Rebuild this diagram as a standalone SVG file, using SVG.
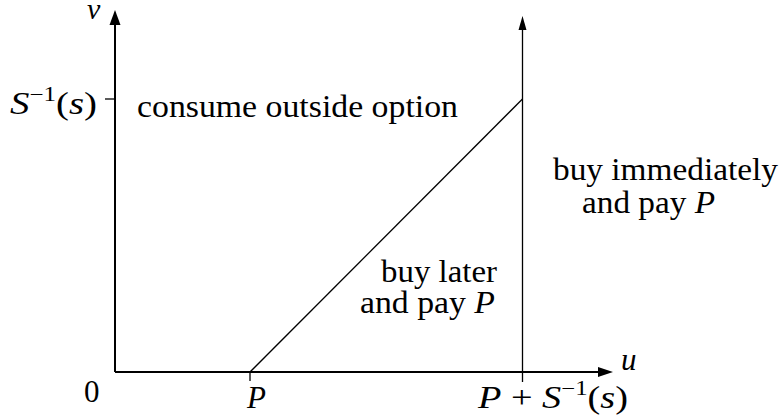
<svg xmlns="http://www.w3.org/2000/svg" width="781" height="419" viewBox="0 0 781 419">
<style>
.it{font-style:italic}
.sup{font-size:20px}
.ax{stroke:#000;stroke-width:2;fill:none}
.ln{stroke:#000;stroke-width:1.3;fill:none}
</style>
<rect width="781" height="419" fill="#fff"/>
<g id="connectors">
<line class="ax" x1="115" y1="372" x2="115" y2="22"/>
<polygon points="115,10 109.5,25 120.5,25" fill="#000"/>
<line class="ax" x1="115" y1="372" x2="600" y2="372"/>
<polygon points="613,372 598,367 598,377" fill="#000"/>
<line class="ln" x1="522.5" y1="382" x2="522.5" y2="26"/>
<polygon points="522.5,16 518.5,30 526.5,30" fill="#000"/>
<line class="ln" x1="250" y1="372" x2="522.5" y2="99"/>
<line class="ln" x1="105" y1="99" x2="115" y2="99"/>
<line class="ln" x1="250" y1="372" x2="250" y2="381"/>
</g>
<g id="labels">
<text font-family="Liberation Serif" font-size="30" font-style="italic" x="87" y="19">v</text>
<text font-family="Liberation Serif" font-size="31" font-style="italic" x="621" y="370">u</text>
<text font-family="Liberation Serif" font-size="31" x="84" y="402">0</text>
<text font-family="Liberation Serif" font-size="31" font-style="italic" x="247" y="408">P</text>
<text font-family="Liberation Serif" font-size="31" x="478" y="408" textLength="150" lengthAdjust="spacingAndGlyphs"><tspan class="it">P</tspan> + <tspan class="it">S</tspan><tspan class="sup" dy="-13">−1</tspan><tspan dy="13">(</tspan><tspan class="it">s</tspan>)</text>
<text font-family="Liberation Serif" font-size="31" x="10" y="114" textLength="87" lengthAdjust="spacingAndGlyphs"><tspan class="it">S</tspan><tspan class="sup" dy="-13">−1</tspan><tspan dy="13">(</tspan><tspan class="it">s</tspan>)</text>
</g>
<g id="region-outside"><text font-family="Liberation Serif" font-size="31" x="137" y="117" textLength="321" lengthAdjust="spacingAndGlyphs">consume outside option</text></g>
<g id="region-immediate">
<text font-family="Liberation Serif" font-size="31" x="553" y="180" textLength="225" lengthAdjust="spacingAndGlyphs">buy immediately</text>
<text font-family="Liberation Serif" font-size="31" x="582" y="213" textLength="133" lengthAdjust="spacingAndGlyphs">and pay <tspan class="it">P</tspan></text>
</g>
<g id="region-later">
<text font-family="Liberation Serif" font-size="31" x="381" y="282" textLength="116" lengthAdjust="spacingAndGlyphs">buy later</text>
<text font-family="Liberation Serif" font-size="31" x="360" y="313" textLength="135" lengthAdjust="spacingAndGlyphs">and pay <tspan class="it">P</tspan></text>
</g>
</svg>
